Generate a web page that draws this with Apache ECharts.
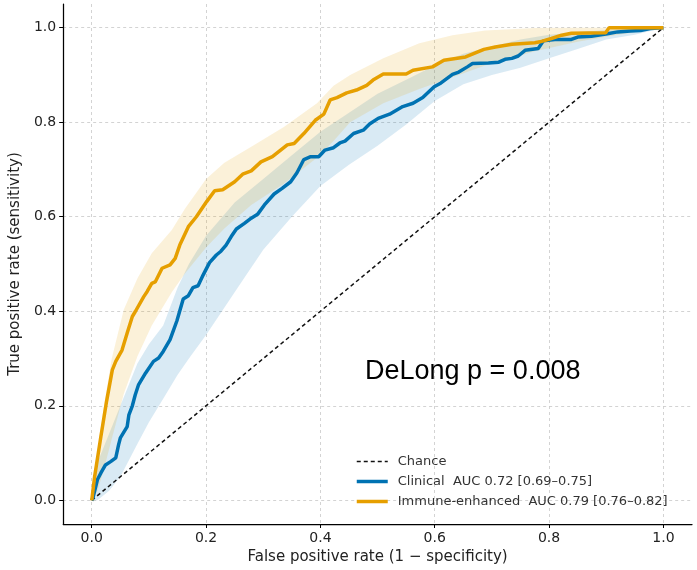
<!DOCTYPE html>
<html><head><meta charset="utf-8">
<script src="https://cdn.jsdelivr.net/npm/echarts@6/dist/echarts.min.js"></script>
<style>html,body{margin:0;padding:0;background:#fff}#c{width:697px;height:570px}</style>
</head><body><div id="c"></div>
<script>
// ---- data ----
const tickValues = [0, 0.2, 0.4, 0.6, 0.8, 1.0];
const chanceLine = [[0, 0], [1, 1]];

const clinicalROC = [[0,0],[0.002,0.005],[0.010,0.044],[0.016,0.058],[0.024,0.075],[0.033,0.082],[0.042,0.090],[0.047,0.118],[0.050,0.132],[0.062,0.156],[0.065,0.181],[0.071,0.200],[0.076,0.223],[0.082,0.245],[0.094,0.269],[0.108,0.294],[0.117,0.301],[0.125,0.315],[0.137,0.340],[0.149,0.380],[0.160,0.426],[0.169,0.433],[0.177,0.450],[0.186,0.454],[0.195,0.477],[0.206,0.503],[0.218,0.519],[0.226,0.527],[0.235,0.540],[0.244,0.558],[0.253,0.574],[0.267,0.586],[0.279,0.597],[0.290,0.605],[0.302,0.625],[0.319,0.648],[0.333,0.660],[0.348,0.674],[0.359,0.693],[0.371,0.721],[0.383,0.727],[0.397,0.727],[0.408,0.741],[0.423,0.746],[0.434,0.756],[0.443,0.760],[0.458,0.776],[0.475,0.783],[0.486,0.796],[0.501,0.808],[0.521,0.817],[0.544,0.833],[0.562,0.840],[0.579,0.852],[0.599,0.875],[0.611,0.883],[0.631,0.901],[0.642,0.906],[0.657,0.917],[0.666,0.924],[0.694,0.925],[0.712,0.927],[0.723,0.933],[0.735,0.935],[0.746,0.940],[0.758,0.952],[0.781,0.956],[0.790,0.972],[0.810,0.975],[0.839,0.975],[0.850,0.980],[0.874,0.982],[0.902,0.987],[0.920,0.991],[0.942,0.993],[0.960,0.994],[0.977,0.998],[1.0,1.0]];

const immuneROC = [[0,0],[0.005,0.05],[0.016,0.135],[0.026,0.21],[0.036,0.276],[0.042,0.294],[0.053,0.318],[0.062,0.354],[0.071,0.389],[0.076,0.399],[0.091,0.431],[0.097,0.442],[0.105,0.459],[0.111,0.462],[0.123,0.491],[0.137,0.498],[0.146,0.512],[0.154,0.540],[0.169,0.579],[0.183,0.600],[0.201,0.632],[0.215,0.655],[0.229,0.657],[0.250,0.674],[0.264,0.690],[0.279,0.697],[0.296,0.716],[0.316,0.727],[0.342,0.752],[0.354,0.755],[0.371,0.776],[0.391,0.804],[0.406,0.817],[0.417,0.847],[0.429,0.852],[0.446,0.862],[0.463,0.868],[0.481,0.878],[0.492,0.889],[0.510,0.902],[0.550,0.902],[0.562,0.910],[0.596,0.917],[0.616,0.931],[0.654,0.938],[0.686,0.954],[0.706,0.959],[0.735,0.965],[0.775,0.968],[0.784,0.970],[0.804,0.977],[0.822,0.984],[0.839,0.988],[0.899,0.989],[0.905,1.0],[1.0,1.0]];

// confidence bands
const clinicalBandX  = [0, 0.01, 0.03, 0.05, 0.08, 0.10, 0.125, 0.15, 0.17, 0.20, 0.25, 0.30, 0.35, 0.40, 0.45, 0.50, 0.55, 0.60, 0.65, 0.70, 0.75, 0.80, 0.85, 0.90, 0.95, 1.0];
const clinicalBandLo = [0, 0.0, 0.02, 0.05, 0.12, 0.165, 0.215, 0.265, 0.30, 0.35, 0.44, 0.53, 0.60, 0.665, 0.71, 0.75, 0.795, 0.845, 0.88, 0.90, 0.915, 0.935, 0.955, 0.975, 0.985, 1.0];
const clinicalBandHi = [0, 0.08, 0.14, 0.20, 0.29, 0.33, 0.37, 0.45, 0.50, 0.56, 0.63, 0.68, 0.73, 0.78, 0.82, 0.86, 0.89, 0.92, 0.945, 0.96, 0.975, 0.985, 0.99, 0.995, 0.998, 1.0];

const immuneBandX  = [0, 0.01, 0.02, 0.035, 0.056, 0.08, 0.105, 0.14, 0.163, 0.20, 0.232, 0.279, 0.336, 0.394, 0.423, 0.452, 0.51, 0.573, 0.631, 0.688, 0.775, 0.85, 0.92, 1.0];
const immuneBandLo = [0, 0.02, 0.06, 0.13, 0.225, 0.305, 0.37, 0.44, 0.48, 0.535, 0.575, 0.625, 0.67, 0.725, 0.76, 0.80, 0.84, 0.87, 0.895, 0.92, 0.95, 0.97, 0.985, 1.0];
const immuneBandHi = [0, 0.10, 0.19, 0.30, 0.403, 0.47, 0.523, 0.572, 0.617, 0.680, 0.714, 0.748, 0.790, 0.840, 0.877, 0.900, 0.935, 0.967, 0.984, 0.994, 0.999, 1.0, 1.0, 1.0];

const legendNames = ['Chance', 'Clinical  AUC 0.72 [0.69\u20130.75]', 'Immune-enhanced  AUC 0.79 [0.76\u20130.82]'];
const annotation = 'DeLong p = 0.008';
const xTitle = 'False positive rate (1 \u2212 specificity)';
const yTitle = 'True positive rate (sensitivity)';

// ---- chart ----
const BLUE = '#0072B2', ORANGE = '#E69F00';
const chart = echarts.init(document.getElementById('c'), null, {renderer: 'canvas'});

function band(name, xs, lo, hi, fill) {
  return {
    type: 'custom', name: name, silent: true, clip: true, z: 1,
    data: [[0, 0]],
    renderItem: function (params, api) {
      const pts = [];
      for (let i = 0; i < xs.length; i++) pts.push(api.coord([xs[i], hi[i]]));
      for (let i = xs.length - 1; i >= 0; i--) pts.push(api.coord([xs[i], lo[i]]));
      return {type: 'polygon', shape: {points: pts}, style: {fill: fill}};
    }
  };
}

const font = 'DejaVu Sans';
function axisCommon(name, isY) {
  return {
    type: 'value', min: -0.05, max: 1.05,
    name: name, nameLocation: 'middle', nameGap: isY ? 38 : 21,
    nameTextStyle: {fontFamily: font, fontSize: 15, color: '#222'},
    axisLine: {show: true, onZero: false, lineStyle: {color: '#000', width: 1.25}},
    axisTick: {show: true, customValues: tickValues, length: 4, lineStyle: {color: '#000', width: 1}},
    axisLabel: {customValues: tickValues, formatter: v => v.toFixed(1), fontFamily: font, fontSize: 14, color: '#222', margin: 7},
    splitLine: {show: true, lineStyle: {color: '#c8c8c8', width: 0.8, type: [3, 3]}}
  };
}

chart.setOption({
  animation: false,
  backgroundColor: '#fff',
  grid: {left: 57, right: 5, top: 4, bottom: 46, containLabel: false},
  xAxis: axisCommon(xTitle, false),
  yAxis: axisCommon(yTitle, true),
  legend: {
    orient: 'vertical', left: 350, top: 450, itemGap: 7, itemWidth: 31, itemHeight: 14,
    data: legendNames,
    lineStyle: {width: 'inherit'},
    itemStyle: {opacity: 0, borderWidth: 0},
    textStyle: {fontFamily: font, fontSize: 13, color: '#333', padding: [0, 0, 0, 5]}
  },
  series: [
    band('clinicalBand', clinicalBandX, clinicalBandLo, clinicalBandHi, 'rgba(0,114,178,0.15)'),
    band('immuneBand', immuneBandX, immuneBandLo, immuneBandHi, 'rgba(230,159,0,0.15)'),
    {type: 'line', name: legendNames[0], data: chanceLine, symbol: 'none', showSymbol: false, z: 3,
     lineStyle: {color: '#111', width: 1.5, type: [4, 3]}, itemStyle: {color: '#111'}},
    {type: 'line', name: legendNames[1], data: clinicalROC, symbol: 'none', showSymbol: false, z: 4,
     lineStyle: {color: BLUE, width: 3.5}, itemStyle: {color: BLUE}},
    {type: 'line', name: legendNames[2], data: immuneROC, symbol: 'none', showSymbol: false, z: 5,
     lineStyle: {color: ORANGE, width: 3.5}, itemStyle: {color: ORANGE}}
  ],
  graphic: [{
    type: 'text', left: 365, top: 358, z: 10,
    style: {text: annotation, fontFamily: 'Liberation Sans', fontSize: 27, fill: '#000'}
  }]
});
</script></body></html>
